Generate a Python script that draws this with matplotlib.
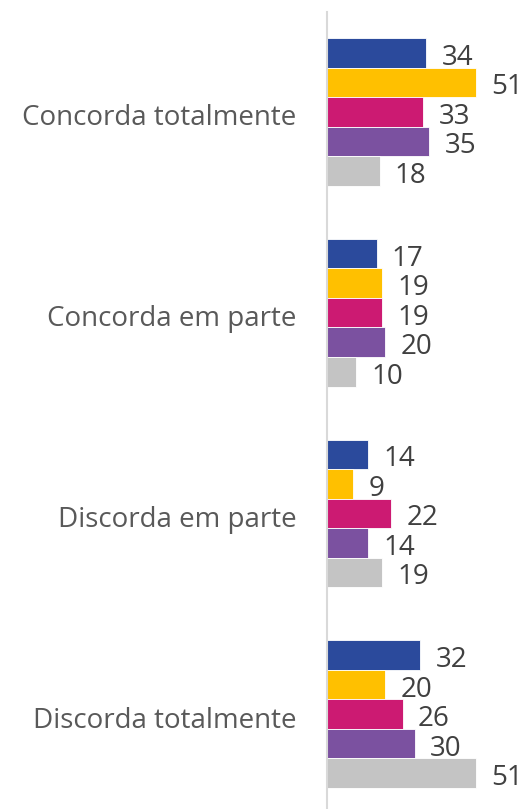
import numpy as np
import matplotlib.pyplot as plt
import matplotlib.transforms as mtransforms

categories = ['Concorda totalmente', 'Concorda em parte', 'Discorda em parte', 'Discorda totalmente']
serie_1 = [34, 17, 14, 32]
serie_2 = [51, 19, 9, 20]
serie_3 = [33, 19, 22, 26]
serie_4 = [35, 20, 14, 30]
serie_5 = [18, 10, 19, 51]
series = [serie_1, serie_2, serie_3, serie_4, serie_5]
colors = ['#2B4A9C', '#FFC000', '#CC1A72', '#7B51A0', '#C4C4C4']

fig = plt.figure(figsize=(5.25, 8.09), dpi=100)
# axes runs slightly past the bottom edge, like the cropped reference
ax = fig.add_axes([327 / 525, -5.6 / 809, 175 / 525, 803 / 809])

bar_h = 0.147
y = np.arange(len(categories))
for i, (vals, c) in enumerate(zip(series, colors)):
    pos = y - 2 * bar_h + i * bar_h
    ax.barh(pos, vals, height=bar_h, color=c, edgecolor='white', linewidth=0.6)
    for p, v in zip(pos, vals):
        ax.annotate(str(v), (v, p), xytext=(11, -3.5), textcoords='offset points',
                    va='center', ha='left', fontsize=20, color='#404040',
                    family='Open Sans', annotation_clip=False)

ax.set_xlim(0, 60)
ax.set_ylim(3.5, -0.5)
ax.set_yticks(y)
ax.set_yticklabels(categories, fontsize=20, color='#595959', family='Open Sans')
ax.tick_params(axis='y', length=0, pad=22)
# nudge category labels down a little
shift = mtransforms.ScaledTranslation(0, -2 / 72, fig.dpi_scale_trans)
for lbl in ax.get_yticklabels():
    lbl.set_transform(lbl.get_transform() + shift)
ax.set_xticks([])
for s in ['top', 'right', 'bottom']:
    ax.spines[s].set_visible(False)
ax.spines['left'].set_color('#D9D9D9')
ax.spines['left'].set_linewidth(1.5)

fig.savefig('out.png', dpi=100)
